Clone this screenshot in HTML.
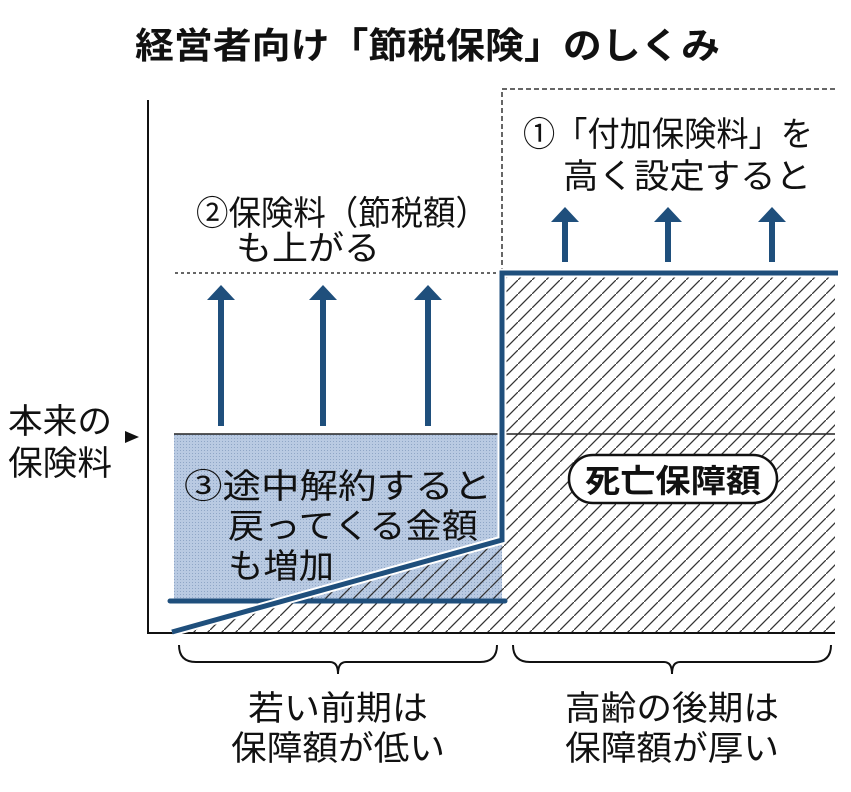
<!DOCTYPE html>
<html><head><meta charset="utf-8"><style>
body{margin:0;background:#fff;}
svg text{font-family:"Liberation Sans","Noto Sans CJK JP",sans-serif;fill:#111;}
</style></head><body>
<svg width="851" height="787" viewBox="0 0 851 787" xmlns="http://www.w3.org/2000/svg">
<defs>
<pattern id="h" patternUnits="userSpaceOnUse" width="14" height="14">
<path d="M-2,16 L16,-2" stroke="#333" stroke-width="1.3"/>
</pattern>
<pattern id="d" patternUnits="userSpaceOnUse" width="3" height="3">
<rect width="3" height="3" fill="#b9cae2"/><rect width="1" height="1" fill="#8fa6c6"/>
</pattern>
<clipPath id="lt"><polygon points="172,633 502,540 502,633"/></clipPath>
</defs>
<text x="135" y="58" font-size="36" font-weight="bold" textLength="585" lengthAdjust="spacingAndGlyphs">経営者向け「節税保険」のしくみ</text>
<rect x="502" y="273" width="333" height="360" fill="url(#h)"/>
<line x1="502" y1="434" x2="835" y2="434" stroke="#222" stroke-width="1.5"/>
<path d="M502,273 V89 H835" fill="none" stroke="#333" stroke-width="1.5" stroke-dasharray="5,3"/>
<line x1="175" y1="273" x2="502" y2="273" stroke="#333" stroke-width="1.5" stroke-dasharray="3,3"/>
<rect x="174" y="434" width="328" height="166" fill="url(#d)"/>
<line x1="174" y1="434" x2="502" y2="434" stroke="#222" stroke-width="1.5"/>
<rect x="148" y="540" width="354" height="93" fill="url(#h)" clip-path="url(#lt)"/>
<path d="M148,100 V633 H835" fill="none" stroke="#111" stroke-width="2"/>
<line x1="170" y1="601" x2="505" y2="601" stroke="#1f4f7c" stroke-width="5" stroke-linecap="round"/>
<polyline points="172,632 502,540 502,273 838,273" fill="none" stroke="#fff" stroke-width="9"/>
<polyline points="172,632 502,540 502,273 838,273" fill="none" stroke="#1f4f7c" stroke-width="5"/>
<g fill="#1f4f7c">
<g><rect x="218" y="298" width="6" height="128"/><polygon points="207,300 235,300 221,285"/></g>
<g><rect x="320" y="298" width="6" height="128"/><polygon points="309,300 337,300 323,285"/></g>
<g><rect x="425" y="298" width="6" height="128"/><polygon points="414,300 442,300 428,285"/></g>
<g><rect x="562" y="220" width="6" height="42"/><polygon points="551,222 579,222 565,207"/></g>
<g><rect x="665" y="220" width="6" height="42"/><polygon points="654,222 682,222 668,207"/></g>
<g><rect x="769" y="220" width="6" height="42"/><polygon points="758,222 786,222 772,207"/></g>
</g>
<g font-size="34">
<text x="523" y="146" textLength="290" lengthAdjust="spacingAndGlyphs">①「付加保険料」を</text>
<text x="563" y="188" textLength="248" lengthAdjust="spacingAndGlyphs">高く設定すると</text>
<text x="196" y="225" textLength="292" lengthAdjust="spacingAndGlyphs">②保険料（節税額）</text>
<text x="236" y="260" textLength="144" lengthAdjust="spacingAndGlyphs">も上がる</text>
<text x="184" y="498" textLength="308" lengthAdjust="spacingAndGlyphs">③途中解約すると</text>
<text x="228" y="538" textLength="250" lengthAdjust="spacingAndGlyphs">戻ってくる金額</text>
<text x="228" y="578" textLength="106" lengthAdjust="spacingAndGlyphs">も増加</text>
<text x="8" y="433" textLength="104" lengthAdjust="spacingAndGlyphs">本来の</text>
<text x="8" y="475" textLength="104" lengthAdjust="spacingAndGlyphs">保険料</text>
<text x="338" y="720" text-anchor="middle" textLength="180" lengthAdjust="spacingAndGlyphs">若い前期は</text>
<text x="338" y="760" text-anchor="middle" textLength="214" lengthAdjust="spacingAndGlyphs">保障額が低い</text>
<text x="672" y="720" text-anchor="middle" textLength="214" lengthAdjust="spacingAndGlyphs">高齢の後期は</text>
<text x="672" y="760" text-anchor="middle" textLength="214" lengthAdjust="spacingAndGlyphs">保障額が厚い</text>
</g>
<polygon points="125,431 139,437 125,443" fill="#111"/>
<rect x="569" y="455" width="208" height="48" rx="24" fill="#fff" stroke="#111" stroke-width="2.5"/>
<text x="673" y="492" font-size="32" font-weight="bold" text-anchor="middle" textLength="176" lengthAdjust="spacingAndGlyphs">死亡保障額</text>
<path d="M179,645 Q179,662 196,662 H330 Q338,662 338,674 Q338,662 346,662 H480 Q497,662 497,645" fill="none" stroke="#111" stroke-width="2"/>
<path d="M513,645 Q513,662 530,662 H664 Q672,662 672,674 Q672,662 680,662 H814 Q831,662 831,645" fill="none" stroke="#111" stroke-width="2"/>
</svg>
</body></html>
